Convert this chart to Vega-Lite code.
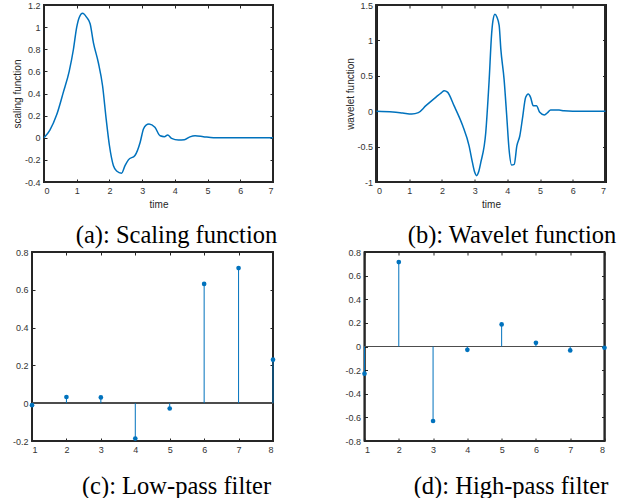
{
  "$schema": "https://vega.github.io/schema/vega-lite/v6.json",
  "background": "white",
  "padding": {"left": 12, "top": 1, "right": 0, "bottom": 0},
  "config": {
    "view": {"stroke": null},
    "axis": {
      "labelFont": "Liberation Sans",
      "labelFontSize": 9,
      "labelColor": "#333333",
      "titleFont": "Liberation Sans",
      "titleFontSize": 10,
      "titleFontWeight": "normal",
      "titleColor": "#262626",
      "domain": true,
      "domainColor": "#262626",
      "domainWidth": 1,
      "tickColor": "#262626",
      "tickSize": -3,
      "labelPadding": 7,
      "grid": false
    },
    "title": {
      "orient": "bottom",
      "anchor": "middle",
      "frame": "group",
      "font": "Liberation Serif",
      "fontSize": 24.5,
      "fontWeight": "normal",
      "color": "#000000",
      "offset": 15
    }
  },
  "datasets": {
    "phi": [
      {"t": 0, "v": 0}, {"t": 0.18, "v": 0.07}, {"t": 0.39, "v": 0.21}, {"t": 0.59, "v": 0.41},
      {"t": 0.77, "v": 0.6}, {"t": 0.9, "v": 0.8}, {"t": 1.0, "v": 1.0}, {"t": 1.08, "v": 1.09},
      {"t": 1.18, "v": 1.125}, {"t": 1.3, "v": 1.09}, {"t": 1.41, "v": 1.03}, {"t": 1.51, "v": 0.86},
      {"t": 1.66, "v": 0.68}, {"t": 1.79, "v": 0.47}, {"t": 1.9, "v": 0.17}, {"t": 2.0, "v": -0.07},
      {"t": 2.12, "v": -0.25}, {"t": 2.22, "v": -0.3}, {"t": 2.37, "v": -0.32}, {"t": 2.48, "v": -0.25},
      {"t": 2.58, "v": -0.2}, {"t": 2.78, "v": -0.16}, {"t": 2.94, "v": -0.04}, {"t": 3.04, "v": 0.08},
      {"t": 3.12, "v": 0.115}, {"t": 3.21, "v": 0.125}, {"t": 3.39, "v": 0.094}, {"t": 3.55, "v": 0.018},
      {"t": 3.68, "v": 0.01}, {"t": 3.78, "v": 0.025}, {"t": 3.9, "v": -0.005}, {"t": 4.11, "v": -0.02},
      {"t": 4.29, "v": -0.018}, {"t": 4.46, "v": 0.008}, {"t": 4.62, "v": 0.018}, {"t": 4.87, "v": 0.01},
      {"t": 5.18, "v": 0}, {"t": 5.6, "v": 0}, {"t": 7, "v": 0}
    ],
    "psi": [
      {"t": 0, "v": 0}, {"t": 0.5, "v": -0.01}, {"t": 0.8, "v": -0.025}, {"t": 1.08, "v": -0.04},
      {"t": 1.28, "v": -0.02}, {"t": 1.51, "v": 0.078}, {"t": 1.81, "v": 0.196}, {"t": 1.98, "v": 0.26},
      {"t": 2.07, "v": 0.29}, {"t": 2.17, "v": 0.27}, {"t": 2.37, "v": 0.078}, {"t": 2.63, "v": -0.2},
      {"t": 2.83, "v": -0.49}, {"t": 2.93, "v": -0.72}, {"t": 3.0, "v": -0.86}, {"t": 3.06, "v": -0.91},
      {"t": 3.12, "v": -0.86}, {"t": 3.19, "v": -0.72}, {"t": 3.34, "v": -0.3}, {"t": 3.44, "v": 0.41},
      {"t": 3.52, "v": 1.1}, {"t": 3.56, "v": 1.28}, {"t": 3.62, "v": 1.37}, {"t": 3.68, "v": 1.33},
      {"t": 3.75, "v": 1.21}, {"t": 3.8, "v": 0.88}, {"t": 3.9, "v": 0.45}, {"t": 3.98, "v": -0.06},
      {"t": 4.05, "v": -0.53}, {"t": 4.13, "v": -0.76}, {"t": 4.21, "v": -0.75}, {"t": 4.29, "v": -0.49},
      {"t": 4.38, "v": -0.35}, {"t": 4.46, "v": -0.11}, {"t": 4.56, "v": 0.196}, {"t": 4.64, "v": 0.243},
      {"t": 4.71, "v": 0.196}, {"t": 4.79, "v": 0.078}, {"t": 4.89, "v": 0.078}, {"t": 4.99, "v": -0.016},
      {"t": 5.13, "v": -0.054}, {"t": 5.24, "v": -0.016}, {"t": 5.32, "v": 0.017}, {"t": 5.58, "v": 0.017},
      {"t": 5.73, "v": 0.005}, {"t": 6.0, "v": 0}, {"t": 7, "v": 0}
    ],
    "lo": [
      {"n": 1, "h": -0.0106}, {"n": 2, "h": 0.0329}, {"n": 3, "h": 0.0308}, {"n": 4, "h": -0.187},
      {"n": 5, "h": -0.028}, {"n": 6, "h": 0.6309}, {"n": 7, "h": 0.7148}, {"n": 8, "h": 0.2304}
    ],
    "hi": [
      {"n": 1, "h": -0.2304}, {"n": 2, "h": 0.7148}, {"n": 3, "h": -0.6309}, {"n": 4, "h": -0.028},
      {"n": 5, "h": 0.187}, {"n": 6, "h": 0.0308}, {"n": 7, "h": -0.0329}, {"n": 8, "h": -0.0106}
    ]
  },
  "columns": 2,
  "align": "none",
  "spacing": {"row": 0, "column": 66.5},
  "concat": [
    {
      "width": 241,
      "height": 177,
      "data": {"name": "phi"},
      "title": {"text": "(a): Scaling function", "dx": 24},
      "layer": [
        {
          "mark": {"type": "rect", "filled": false, "stroke": "#262626", "strokeWidth": 1.2},
          "encoding": {
            "x": {"datum": 0, "type": "quantitative", "scale": {"domain": [0, 7], "range": [12, 241], "nice": false, "zero": false}, "axis": null},
            "x2": {"datum": 7},
            "y": {"datum": -0.4, "type": "quantitative", "scale": {"domain": [-0.4, 1.2], "nice": false, "zero": false}, "axis": null},
            "y2": {"datum": 1.2}
          }
        },
        {
          "mark": {"type": "line", "color": "#0072BD", "strokeWidth": 1.5, "interpolate": "monotone"},
          "encoding": {
            "x": {"field": "t", "type": "quantitative", "scale": {"domain": [0, 7], "range": [12, 241], "nice": false, "zero": false},
              "axis": {"title": "time", "titlePadding": 4, "values": [0, 1, 2, 3, 4, 5, 6, 7], "labelExpr": "replace(format(datum.value, '~g'), '\u2212', '-')"}},
            "y": {"field": "v", "type": "quantitative", "scale": {"domain": [-0.4, 1.2], "nice": false, "zero": false},
              "axis": {"title": "scaling function", "titlePadding": 1.5, "offset": -12, "values": [-0.4, -0.2, 0, 0.2, 0.4, 0.6, 0.8, 1, 1.2], "labelExpr": "replace(format(datum.value, '~g'), '\u2212', '-')"}}
          }
        },
        {
          "mark": {"type": "line", "opacity": 0},
          "encoding": {
            "x": {"field": "t", "type": "quantitative", "scale": {"domain": [0, 7], "range": [12, 241], "nice": false, "zero": false},
              "axis": {"orient": "top", "labels": false, "title": null, "values": [0, 1, 2, 3, 4, 5, 6, 7]}},
            "y": {"field": "v", "type": "quantitative", "scale": {"domain": [-0.4, 1.2], "nice": false, "zero": false},
              "axis": {"orient": "right", "labels": false, "title": null, "values": [-0.4, -0.2, 0, 0.2, 0.4, 0.6, 0.8, 1, 1.2]}}
          }
        }
      ],
      "resolve": {"scale": {"x": "independent", "y": "independent"}, "axis": {"x": "independent", "y": "independent"}}
    },
    {
      "width": 229,
      "height": 177,
      "data": {"name": "psi"},
      "title": {"text": "(b): Wavelet function", "dx": 21},
      "layer": [
        {
          "mark": {"type": "rect", "filled": false, "stroke": "#262626", "strokeWidth": 1.2},
          "encoding": {
            "x": {"datum": 0, "type": "quantitative", "scale": {"domain": [0, 7], "nice": false, "zero": false}, "axis": null},
            "x2": {"datum": 7},
            "y": {"datum": -1, "type": "quantitative", "scale": {"domain": [-1, 1.5], "nice": false, "zero": false}, "axis": null},
            "y2": {"datum": 1.5}
          }
        },
        {
          "mark": {"type": "line", "color": "#0072BD", "strokeWidth": 1.5, "interpolate": "monotone"},
          "encoding": {
            "x": {"field": "t", "type": "quantitative", "scale": {"domain": [0, 7], "nice": false, "zero": false},
              "axis": {"title": "time", "titlePadding": 4, "values": [0, 1, 2, 3, 4, 5, 6, 7], "labelExpr": "replace(format(datum.value, '~g'), '\u2212', '-')"}},
            "y": {"field": "v", "type": "quantitative", "scale": {"domain": [-1, 1.5], "nice": false, "zero": false},
              "axis": {"title": "wavelet function", "titlePadding": 1.5, "values": [-1, -0.5, 0, 0.5, 1, 1.5], "labelExpr": "replace(format(datum.value, '~g'), '\u2212', '-')"}}
          }
        },
        {
          "mark": {"type": "line", "opacity": 0},
          "encoding": {
            "x": {"field": "t", "type": "quantitative", "scale": {"domain": [0, 7], "nice": false, "zero": false},
              "axis": {"orient": "top", "labels": false, "title": null, "values": [0, 1, 2, 3, 4, 5, 6, 7]}},
            "y": {"field": "v", "type": "quantitative", "scale": {"domain": [-1, 1.5], "nice": false, "zero": false},
              "axis": {"orient": "right", "labels": false, "title": null, "values": [-1, -0.5, 0, 0.5, 1, 1.5]}}
          }
        }
      ],
      "resolve": {"scale": {"x": "independent", "y": "independent"}, "axis": {"x": "independent", "y": "independent"}}
    },
    {
      "width": 241,
      "height": 189,
      "data": {"name": "lo"},
      "title": {"text": "(c): Low-pass filter", "dx": 24, "offset": 20.5},
      "layer": [
        {
          "mark": {"type": "rect", "filled": false, "stroke": "#262626", "strokeWidth": 1.2},
          "encoding": {
            "x": {"datum": 1, "type": "quantitative", "scale": {"domain": [1, 8], "nice": false, "zero": false}, "axis": null},
            "x2": {"datum": 8},
            "y": {"datum": -0.2, "type": "quantitative", "scale": {"domain": [-0.2, 0.8], "nice": false, "zero": false}, "axis": null},
            "y2": {"datum": 0.8}
          }
        },
        {
          "mark": {"type": "rule", "color": "#4d4d4d", "strokeWidth": 1.2},
          "encoding": {
            "x": {"datum": 1, "type": "quantitative", "scale": {"domain": [1, 8], "nice": false, "zero": false}, "axis": null},
            "x2": {"datum": 8},
            "y": {"datum": 0, "type": "quantitative", "scale": {"domain": [-0.2, 0.8], "nice": false, "zero": false}, "axis": null}
          }
        },
        {
          "mark": {"type": "rule", "color": "#0072BD", "strokeWidth": 1},
          "encoding": {
            "x": {"field": "n", "type": "quantitative", "scale": {"domain": [1, 8], "nice": false, "zero": false},
              "axis": {"title": null, "values": [1, 2, 3, 4, 5, 6, 7, 8], "labelExpr": "replace(format(datum.value, '~g'), '\u2212', '-')"}},
            "y": {"field": "h", "type": "quantitative", "scale": {"domain": [-0.2, 0.8], "nice": false, "zero": false},
              "axis": {"title": null, "values": [-0.2, 0, 0.2, 0.4, 0.6, 0.8], "labelExpr": "replace(format(datum.value, '~g'), '\u2212', '-')"}},
            "y2": {"datum": 0}
          }
        },
        {
          "mark": {"type": "point", "filled": true, "color": "#0072BD", "opacity": 1, "size": 22},
          "encoding": {
            "x": {"field": "n", "type": "quantitative", "scale": {"domain": [1, 8], "nice": false, "zero": false}, "axis": null},
            "y": {"field": "h", "type": "quantitative", "scale": {"domain": [-0.2, 0.8], "nice": false, "zero": false}, "axis": null}
          }
        },
        {
          "mark": {"type": "point", "opacity": 0},
          "encoding": {
            "x": {"field": "n", "type": "quantitative", "scale": {"domain": [1, 8], "nice": false, "zero": false},
              "axis": {"orient": "top", "labels": false, "title": null, "values": [1, 2, 3, 4, 5, 6, 7, 8]}},
            "y": {"field": "h", "type": "quantitative", "scale": {"domain": [-0.2, 0.8], "nice": false, "zero": false},
              "axis": {"orient": "right", "labels": false, "title": null, "values": [-0.2, 0, 0.2, 0.4, 0.6, 0.8]}}
          }
        }
      ],
      "resolve": {"scale": {"x": "independent", "y": "independent"}, "axis": {"x": "independent", "y": "independent"}}
    },
    {
      "width": 240,
      "height": 189,
      "data": {"name": "hi"},
      "title": {"text": "(d): High-pass filter", "dx": 26.5, "offset": 20.5},
      "layer": [
        {
          "mark": {"type": "rect", "filled": false, "stroke": "#262626", "strokeWidth": 1.2},
          "encoding": {
            "x": {"datum": 1, "type": "quantitative", "scale": {"domain": [1, 8], "nice": false, "zero": false}, "axis": null},
            "x2": {"datum": 8},
            "y": {"datum": -0.8, "type": "quantitative", "scale": {"domain": [-0.8, 0.8], "nice": false, "zero": false}, "axis": null},
            "y2": {"datum": 0.8}
          }
        },
        {
          "mark": {"type": "rule", "color": "#4d4d4d", "strokeWidth": 1.2},
          "encoding": {
            "x": {"datum": 1, "type": "quantitative", "scale": {"domain": [1, 8], "nice": false, "zero": false}, "axis": null},
            "x2": {"datum": 8},
            "y": {"datum": 0, "type": "quantitative", "scale": {"domain": [-0.8, 0.8], "nice": false, "zero": false}, "axis": null}
          }
        },
        {
          "mark": {"type": "rule", "color": "#0072BD", "strokeWidth": 1},
          "encoding": {
            "x": {"field": "n", "type": "quantitative", "scale": {"domain": [1, 8], "nice": false, "zero": false},
              "axis": {"title": null, "values": [1, 2, 3, 4, 5, 6, 7, 8], "labelExpr": "replace(format(datum.value, '~g'), '\u2212', '-')"}},
            "y": {"field": "h", "type": "quantitative", "scale": {"domain": [-0.8, 0.8], "nice": false, "zero": false},
              "axis": {"title": null, "values": [-0.8, -0.6, -0.4, -0.2, 0, 0.2, 0.4, 0.6, 0.8], "labelExpr": "replace(format(datum.value, '~g'), '\u2212', '-')"}},
            "y2": {"datum": 0}
          }
        },
        {
          "mark": {"type": "point", "filled": true, "color": "#0072BD", "opacity": 1, "size": 22},
          "encoding": {
            "x": {"field": "n", "type": "quantitative", "scale": {"domain": [1, 8], "nice": false, "zero": false}, "axis": null},
            "y": {"field": "h", "type": "quantitative", "scale": {"domain": [-0.8, 0.8], "nice": false, "zero": false}, "axis": null}
          }
        },
        {
          "mark": {"type": "point", "opacity": 0},
          "encoding": {
            "x": {"field": "n", "type": "quantitative", "scale": {"domain": [1, 8], "nice": false, "zero": false},
              "axis": {"orient": "top", "labels": false, "title": null, "values": [1, 2, 3, 4, 5, 6, 7, 8]}},
            "y": {"field": "h", "type": "quantitative", "scale": {"domain": [-0.8, 0.8], "nice": false, "zero": false},
              "axis": {"orient": "right", "labels": false, "title": null, "values": [-0.8, -0.6, -0.4, -0.2, 0, 0.2, 0.4, 0.6, 0.8]}}
          }
        }
      ],
      "resolve": {"scale": {"x": "independent", "y": "independent"}, "axis": {"x": "independent", "y": "independent"}}
    }
  ]
}
